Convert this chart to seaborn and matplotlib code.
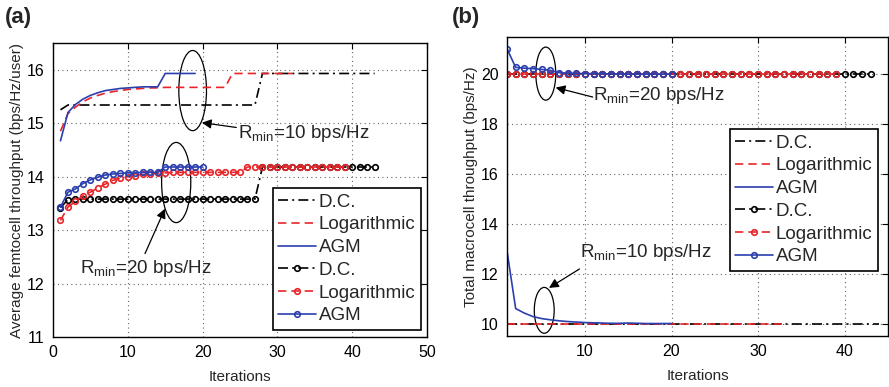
import matplotlib
matplotlib.use("Agg")
import matplotlib.pyplot as plt
from matplotlib.patches import Ellipse
import seaborn as sns
import numpy as np

# ---------------- data ----------------
# Panel (a): average femtocell throughput
a10_dc = [15.25, 15.34, 15.34, 15.34, 15.34, 15.34, 15.34, 15.34, 15.34, 15.34,
          15.34, 15.34, 15.34, 15.34, 15.34, 15.34, 15.34, 15.34, 15.34, 15.34,
          15.34, 15.34, 15.34, 15.34, 15.34, 15.34, 15.34, 15.93, 15.93, 15.93,
          15.93, 15.93, 15.93, 15.93, 15.93, 15.93, 15.93, 15.93, 15.93, 15.93,
          15.93, 15.93, 15.93]
a10_log = [14.85, 15.18, 15.30, 15.40, 15.47, 15.52, 15.56, 15.59, 15.61, 15.63,
           15.64, 15.65, 15.66, 15.66, 15.67, 15.67, 15.67, 15.67, 15.67, 15.67,
           15.67, 15.67, 15.67, 15.93, 15.93, 15.93, 15.93, 15.93, 15.93, 15.93,
           15.93, 15.93]
a10_agm = [14.67, 15.20, 15.35, 15.45, 15.52, 15.57, 15.61, 15.63, 15.65, 15.66,
           15.67, 15.68, 15.68, 15.68, 15.93, 15.93, 15.93, 15.93, 15.93]
a20_dc = [13.42, 13.57, 13.58, 13.58, 13.58, 13.58, 13.58, 13.58, 13.58, 13.58,
          13.58, 13.58, 13.58, 13.58, 13.58, 13.58, 13.58, 13.58, 13.58, 13.58,
          13.58, 13.58, 13.58, 13.58, 13.58, 13.58, 13.58, 14.18, 14.18, 14.18,
          14.18, 14.18, 14.18, 14.18, 14.18, 14.18, 14.18, 14.18, 14.18, 14.18,
          14.18, 14.18, 14.18]
a20_log = [13.18, 13.43, 13.54, 13.64, 13.71, 13.79, 13.86, 13.93, 13.97, 14.00,
           14.02, 14.04, 14.05, 14.06, 14.07, 14.08, 14.08, 14.08, 14.08, 14.08,
           14.08, 14.08, 14.08, 14.08, 14.08, 14.18, 14.18, 14.18, 14.18, 14.18,
           14.18, 14.18, 14.18, 14.18, 14.18, 14.18, 14.18, 14.18, 14.18]
a20_agm = [13.43, 13.71, 13.77, 13.87, 13.94, 13.99, 14.03, 14.05, 14.06, 14.07,
           14.07, 14.08, 14.08, 14.08, 14.18, 14.18, 14.18, 14.18, 14.18, 14.18]

# Panel (b): total macrocell throughput
b10_dc = [10.0, 10.0, 10.0, 10.0, 10.0, 10.0, 10.0, 10.0, 10.0, 10.0,
          10.0, 10.0, 10.0, 10.0, 10.0, 10.0, 10.0, 10.0, 10.0, 10.0,
          10.0, 10.0, 10.0, 10.0, 10.0, 10.0, 10.0, 10.0, 10.0, 10.0,
          10.0, 10.0, 10.0, 10.0, 10.0, 10.0, 10.0, 10.0, 10.0, 10.0,
          10.0, 10.0, 10.0, 10.0]
b10_log = [10.0, 10.0, 10.0, 10.0, 10.0, 10.0, 10.0, 10.0, 10.0, 10.0,
           10.0, 10.0, 10.0, 10.0, 10.0, 10.0, 10.0, 10.0, 10.0, 10.0,
           10.0, 10.0, 10.0, 10.0, 10.0, 10.0, 10.0, 10.0, 10.0, 10.0,
           10.0, 10.0, 10.0]
b10_agm = [12.92, 10.60, 10.42, 10.28, 10.20, 10.15, 10.11, 10.08, 10.06, 10.04,
           10.03, 10.02, 10.01, 10.01, 10.02, 10.01, 10.00, 10.00, 10.00, 10.00]
b20_dc = [20.0, 20.0, 20.0, 20.0, 20.0, 20.0, 20.0, 20.0, 20.0, 20.0,
          20.0, 20.0, 20.0, 20.0, 20.0, 20.0, 20.0, 20.0, 20.0, 20.0,
          20.0, 20.0, 20.0, 20.0, 20.0, 20.0, 20.0, 20.0, 20.0, 20.0,
          20.0, 20.0, 20.0, 20.0, 20.0, 20.0, 20.0, 20.0, 20.0, 20.0,
          20.0, 20.0, 20.0]
b20_log = [20.0, 20.0, 20.0, 20.0, 20.0, 20.0, 20.0, 20.0, 20.0, 20.0,
           20.0, 20.0, 20.0, 20.0, 20.0, 20.0, 20.0, 20.0, 20.0, 20.0,
           20.0, 20.0, 20.0, 20.0, 20.0, 20.0, 20.0, 20.0, 20.0, 20.0,
           20.0, 20.0, 20.0, 20.0, 20.0, 20.0, 20.0, 20.0, 20.0]
b20_agm = [21.03, 20.28, 20.25, 20.23, 20.20, 20.16, 20.07, 20.05, 20.04, 20.03,
           20.03, 20.02, 20.02, 20.02, 20.01, 20.01, 20.01, 20.01, 20.01, 20.01]

labels = ["D.C.", "Logarithmic", "AGM"]
a_xticks = [0, 10, 20, 30, 40, 50]
a_yticks = [11, 12, 13, 14, 15, 16]
b_xticks = [10, 20, 30, 40]
b_yticks = [10, 12, 14, 16, 18, 20]

# ---------------- style ----------------
sns.set_style("white")
plt.rcParams['font.family'] = ['Liberation Sans', 'DejaVu Sans']
plt.rcParams['mathtext.fontset'] = 'custom'
plt.rcParams['mathtext.rm'] = 'Liberation Sans'
plt.rcParams['mathtext.it'] = 'Liberation Sans:italic'
plt.rcParams['mathtext.bf'] = 'Liberation Sans:bold'

BLACK = "#000000"
RED = "#e8262a"
BLUE = "#2b3fae"
styles = [(BLACK, (0, (6, 2.5, 1.2, 2.5))), (RED, (0, (5, 3))), (BLUE, "-")]

fig = plt.figure(figsize=(8.89, 3.87), dpi=100)
axA = fig.add_axes([53/889, 1-337/387, 374/889, 294/387])
axB = fig.add_axes([507/889, 1-336/387, 381/889, 299/387])


def it(vals):
    return np.arange(1, len(vals) + 1)


def draw(ax, plain, marked):
    for vals, (c, ls), lab in zip(plain, styles, labels):
        sns.lineplot(x=it(vals), y=vals, ax=ax, color=c, linestyle=ls,
                     linewidth=1.2, label=lab)
    for vals, (c, ls), lab in zip(marked, styles, labels):
        sns.lineplot(x=it(vals), y=vals, ax=ax, color=c, linestyle=ls,
                     linewidth=1.2, marker='o', markersize=4,
                     markerfacecolor='none', markeredgecolor=c,
                     markeredgewidth=1.2, label=lab)


draw(axA, [a10_dc, a10_log, a10_agm], [a20_dc, a20_log, a20_agm])
draw(axB, [b10_dc, b10_log, b10_agm], [b20_dc, b20_log, b20_agm])

for ax in (axA, axB):
    ax.grid(True, linestyle=(0, (1, 3)), color='#666666', linewidth=0.8)
    for s in ax.spines.values():
        s.set_color('black')
        s.set_linewidth(1.0)
    ax.tick_params(direction='in', top=True, right=True, length=4,
                   width=0.8, labelsize=11.5, colors='black', pad=6)
    ax.set_xlabel("Iterations", fontsize=11, labelpad=7)

axA.set_xlim(0, 50)
axA.set_ylim(11, 16.5)
axA.set_xticks(a_xticks)
axA.set_yticks(a_yticks)
axA.set_ylabel("Average femtocell throughput (bps/Hz/user)", fontsize=11,
               labelpad=2)

axB.set_xlim(1, 45)
axB.set_ylim(9.5, 21.5)
axB.set_xticks(b_xticks)
axB.set_yticks(b_yticks)
axB.set_ylabel("Total macrocell throughput (bps/Hz)", fontsize=11, labelpad=2)

leg_kw = dict(fontsize=13.5, frameon=True, fancybox=False, framealpha=1,
              edgecolor='black', handlelength=2.0, handletextpad=0.15,
              labelspacing=0.3, borderpad=0.3, borderaxespad=0.0)
lg = axA.legend(loc='lower right', bbox_to_anchor=(0.984, 0.024), **leg_kw)
lg.get_frame().set_linewidth(1.2)
lg = axB.legend(loc='lower right', bbox_to_anchor=(0.974, 0.217), **leg_kw)
lg.get_frame().set_linewidth(1.2)

# annotations
arrow = dict(arrowstyle='-|>', color='black', lw=0.9, mutation_scale=14,
             shrinkA=0, shrinkB=0)
ell = dict(fill=False, edgecolor='black', linewidth=0.9)
txt = dict(fontsize=13.5, va='baseline', ha='left')

axA.add_patch(Ellipse((18.67, 15.61), 3.7, 1.5, **ell))
axA.annotate('', xy=(19.9, 15.01), xytext=(24.5, 14.92), arrowprops=arrow)
axA.text(24.7, 14.73, r'R$_{\mathrm{min}}$=10 bps/Hz', **txt)

axA.add_patch(Ellipse((16.47, 13.89), 3.9, 1.5, **ell))
axA.annotate('', xy=(14.97, 13.40), xytext=(12.3, 12.56), arrowprops=arrow)
axA.text(3.6, 12.19, r'R$_{\mathrm{min}}$=20 bps/Hz', **txt)

axB.add_patch(Ellipse((5.48, 20.03), 2.3, 2.13, **ell))
axB.annotate('', xy=(6.62, 19.47), xytext=(10.9, 19.09), arrowprops=arrow)
axB.text(10.98, 18.96, r'R$_{\mathrm{min}}$=20 bps/Hz', **txt)

axB.add_patch(Ellipse((5.3, 10.53), 2.3, 1.84, **ell))
axB.annotate('', xy=(5.85, 11.43), xytext=(9.37, 12.19), arrowprops=arrow)
axB.text(9.45, 12.68, r'R$_{\mathrm{min}}$=10 bps/Hz', **txt)

fig.text(5/889, 1-18/387, '(a)', fontsize=16, fontweight='bold', va='center')
fig.text(452/889, 1-18/387, '(b)', fontsize=16, fontweight='bold', va='center')

fig.savefig("out.png", dpi=100)
